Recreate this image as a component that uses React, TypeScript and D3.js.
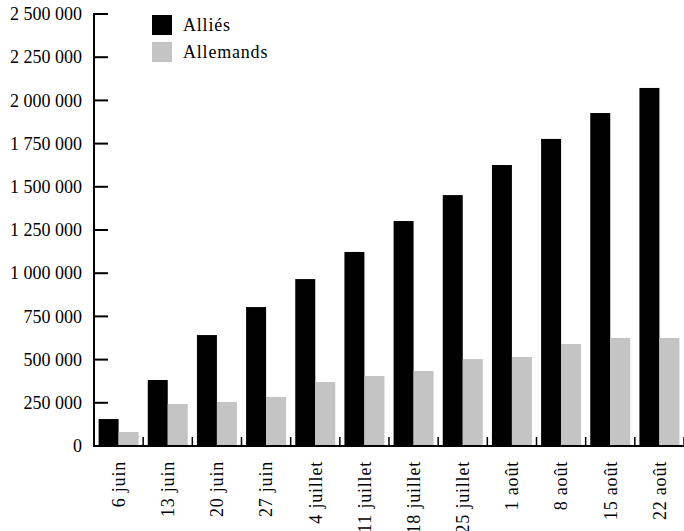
import React from "react";
import * as d3 from "d3";

const categories = ["6 juin", "13 juin", "20 juin", "27 juin", "4 juillet", "11 juillet", "18 juillet", "25 juillet", "1 août", "8 août", "15 août", "22 août"];
const allies = [156000, 382000, 642000, 804000, 966000, 1123000, 1302000, 1452000, 1626000, 1777000, 1927000, 2072000];
const germans = [81000, 243000, 255000, 284000, 370000, 405000, 434000, 503000, 515000, 590000, 625000, 625000];
const seriesNames = ["Alliés", "Allemands"];
const seriesColors = ["#000000", "#c4c4c4"];
const yTicks = [0, 250000, 500000, 750000, 1000000, 1250000, 1500000, 1750000, 2000000, 2250000, 2500000];

const W = 684, H = 531;
const left = 94, right = 684, top = 14, bottom = 446;
const FONT = "'Liberation Serif', 'Times New Roman', serif";

const fmt = (v: number) => d3.format(",")(v).replace(/,/g, " ");

export default function App() {
  const x = d3.scaleBand<string>().domain(categories).range([left, right]).padding(0);
  const inner = d3.scaleBand<string>().domain(seriesNames).range([0, x.bandwidth()]).paddingInner(0).paddingOuter(0.23);
  const y = d3.scaleLinear().domain([0, 2500000]).range([bottom, top]);
  const series = [allies, germans];

  return (
    <svg width={W} height={H} style={{ position: "absolute", left: 0, top: 0, background: "#fff" }} fontFamily={FONT}>
      {series.map((vals, si) =>
        vals.map((v, i) => (
          <rect
            key={`${si}-${i}`}
            x={(x(categories[i]) as number) + (inner(seriesNames[si]) as number)}
            y={y(v)}
            width={inner.bandwidth()}
            height={bottom - y(v)}
            fill={seriesColors[si]}
          />
        ))
      )}
      {/* y axis */}
      <line x1={left} x2={left} y1={top - 1} y2={bottom + 1} stroke="#000" strokeWidth={2} />
      {yTicks.map((t) => (
        <g key={t}>
          <line x1={left} x2={left + 14} y1={y(t)} y2={y(t)} stroke="#000" strokeWidth={2} />
          <text x={82} y={y(t)} dy="0.34em" textAnchor="end" fontSize={18} fill="#000">
            {fmt(t)}
          </text>
        </g>
      ))}
      {/* x axis */}
      <line x1={left - 1} x2={right} y1={bottom} y2={bottom} stroke="#000" strokeWidth={2} />
      {categories.map((c, i) => (
        <line key={c} x1={(x(c) as number) + x.step()} x2={(x(c) as number) + x.step()} y1={bottom} y2={bottom - 9} stroke="#000" strokeWidth={1.5} />
      ))}
      {categories.map((c) => (
        <text
          key={c}
          transform={`translate(${(x(c) as number) + x.bandwidth() / 2},461) rotate(-90)`}
          dy="0.35em"
          textAnchor="end"
          fontSize={18}
          letterSpacing={0.8}
          fill="#000"
        >
          {c}
        </text>
      ))}
      {/* legend */}
      {seriesNames.map((s, i) => (
        <g key={s}>
          <rect x={152} y={15 + i * 27} width={20} height={20} fill={seriesColors[i]} />
          <text x={183} y={31 + i * 27} fontSize={18} letterSpacing={0.8} fill="#000">
            {s}
          </text>
        </g>
      ))}
    </svg>
  );
}
